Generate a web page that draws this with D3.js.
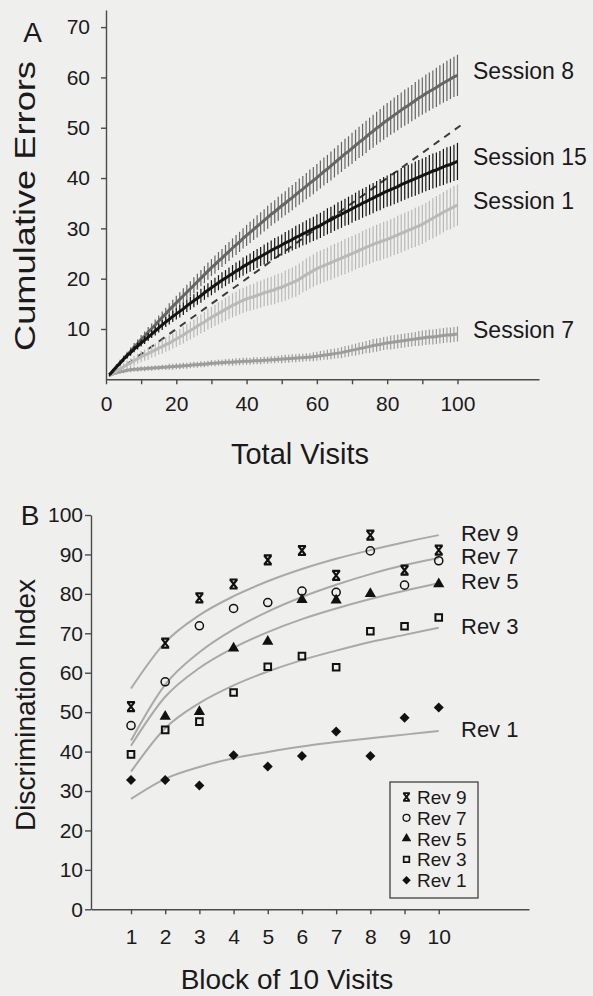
<!DOCTYPE html>
<html>
<head>
<meta charset="utf-8">
<script src="https://cdn.jsdelivr.net/npm/d3@7"></script>
<style>
    body { margin: 0; background: #efefed; }
    svg { display: block; font-family: "Liberation Sans", Arial, sans-serif; }
    .axis path, .axis line { stroke: #4a4a4a; stroke-width: 1.4; }
    .axis text { fill: #1a1a1a; font-family: "Liberation Sans", Arial, sans-serif; }
    .label { fill: #1a1a1a; }
</style>
</head>
<body>
<div class="chart"></div>
<script>
// ---- panel A : cumulative errors, mean per visit (visits 1..100) ----
var session8 = [
    0.9, 1.7, 2.5, 3.3, 4.1, 4.8, 5.6, 6.4, 7.1, 7.9,
    8.6, 9.4, 10.1, 10.8, 11.6, 12.3, 13.0, 13.8, 14.5, 15.2,
    15.9, 16.6, 17.3, 18.0, 18.7, 19.4, 20.1, 20.8, 21.5, 22.2,
    22.8, 23.5, 24.1, 24.8, 25.4, 26.1, 26.7, 27.3, 28.0, 28.6,
    29.2, 29.8, 30.4, 31.0, 31.6, 32.2, 32.8, 33.3, 33.9, 34.5,
    35.0, 35.6, 36.1, 36.7, 37.3, 37.8, 38.4, 39.0, 39.5, 40.1,
    40.7, 41.3, 41.8, 42.4, 43.0, 43.6, 44.2, 44.8, 45.3, 45.9,
    46.5, 47.1, 47.6, 48.2, 48.8, 49.3, 49.9, 50.4, 51.0, 51.5,
    52.0, 52.5, 53.0, 53.5, 54.0, 54.4, 54.9, 55.4, 55.9, 56.3,
    56.8, 57.2, 57.6, 58.0, 58.5, 58.9, 59.3, 59.7, 60.1, 60.4
];
var session15 = [
    0.9, 1.7, 2.5, 3.2, 4.0, 4.7, 5.3, 6.0, 6.6, 7.2,
    7.8, 8.4, 9.0, 9.6, 10.2, 10.8, 11.4, 11.9, 12.5, 13.0,
    13.5, 14.0, 14.6, 15.1, 15.6, 16.1, 16.6, 17.2, 17.7, 18.2,
    18.7, 19.2, 19.7, 20.1, 20.6, 21.0, 21.5, 21.9, 22.4, 22.8,
    23.2, 23.6, 24.0, 24.4, 24.8, 25.2, 25.6, 26.0, 26.3, 26.7,
    27.1, 27.4, 27.8, 28.2, 28.5, 28.9, 29.2, 29.6, 29.9, 30.3,
    30.6, 31.0, 31.4, 31.7, 32.1, 32.5, 32.8, 33.2, 33.5, 33.9,
    34.3, 34.6, 35.0, 35.3, 35.7, 36.0, 36.4, 36.7, 37.1, 37.4,
    37.7, 38.0, 38.3, 38.7, 39.0, 39.3, 39.6, 39.9, 40.2, 40.5,
    40.8, 41.1, 41.4, 41.6, 41.9, 42.2, 42.5, 42.7, 43.0, 43.3
];
var session1 = [
    0.8, 1.3, 1.7, 2.1, 2.5, 2.9, 3.3, 3.7, 4.1, 4.5,
    4.8, 5.1, 5.5, 5.8, 6.2, 6.5, 6.9, 7.2, 7.6, 8.0,
    8.4, 8.8, 9.3, 9.7, 10.1, 10.6, 11.0, 11.4, 11.9, 12.3,
    12.7, 13.1, 13.5, 13.9, 14.3, 14.7, 15.0, 15.4, 15.7, 16.0,
    16.2, 16.4, 16.7, 16.9, 17.2, 17.4, 17.6, 17.8, 18.1, 18.3,
    18.6, 18.9, 19.2, 19.5, 19.9, 20.4, 20.8, 21.2, 21.6, 22.0,
    22.3, 22.6, 22.9, 23.2, 23.5, 23.8, 24.1, 24.4, 24.7, 25.0,
    25.3, 25.6, 25.9, 26.2, 26.5, 26.8, 27.1, 27.3, 27.6, 27.8,
    28.1, 28.4, 28.7, 29.0, 29.3, 29.6, 29.9, 30.2, 30.5, 30.8,
    31.2, 31.6, 32.0, 32.4, 32.8, 33.2, 33.6, 33.9, 34.3, 34.6
];
var session7 = [
    0.8, 1.1, 1.3, 1.5, 1.6, 1.8, 1.9, 2.0, 2.0, 2.1,
    2.1, 2.2, 2.2, 2.3, 2.3, 2.4, 2.4, 2.5, 2.5, 2.6,
    2.6, 2.7, 2.7, 2.8, 2.9, 2.9, 3.0, 3.0, 3.1, 3.2,
    3.2, 3.3, 3.3, 3.4, 3.4, 3.4, 3.5, 3.5, 3.6, 3.6,
    3.6, 3.7, 3.7, 3.7, 3.8, 3.8, 3.9, 3.9, 4.0, 4.0,
    4.1, 4.1, 4.2, 4.2, 4.3, 4.3, 4.4, 4.4, 4.5, 4.6,
    4.7, 4.8, 4.9, 5.0, 5.1, 5.2, 5.3, 5.5, 5.6, 5.8,
    5.9, 6.1, 6.2, 6.4, 6.5, 6.7, 6.8, 6.9, 7.1, 7.2,
    7.3, 7.4, 7.5, 7.6, 7.7, 7.8, 7.9, 8.0, 8.1, 8.2,
    8.3, 8.4, 8.4, 8.5, 8.6, 8.7, 8.8, 8.8, 8.9, 9.0
];

// standard errors per visit
var session8Err = [
    .3, .4, .5, .6, .6, .7, .7, .8, .8, .9,
    .9, 1.0, 1.0, 1.1, 1.1, 1.2, 1.2, 1.3, 1.3, 1.4,
    1.4, 1.5, 1.5, 1.5, 1.6, 1.6, 1.6, 1.7, 1.7, 1.7,
    1.8, 1.8, 1.8, 1.9, 1.9, 1.9, 2.0, 2.0, 2.0, 2.1,
    2.1, 2.1, 2.2, 2.2, 2.2, 2.3, 2.3, 2.3, 2.4, 2.4,
    2.4, 2.5, 2.5, 2.5, 2.6, 2.6, 2.6, 2.7, 2.7, 2.7,
    2.8, 2.8, 2.8, 2.9, 2.9, 2.9, 3.0, 3.0, 3.0, 3.1,
    3.1, 3.1, 3.2, 3.2, 3.2, 3.3, 3.3, 3.3, 3.4, 3.4,
    3.4, 3.5, 3.5, 3.5, 3.6, 3.6, 3.6, 3.7, 3.7, 3.7,
    3.8, 3.8, 3.8, 3.9, 3.9, 3.9, 4.0, 4.0, 4.0, 4.1
];
var session15Err = [
    .3, .3, .4, .4, .5, .5, .6, .6, .7, .7,
    .8, .8, .8, .9, .9, 1.0, 1.0, 1.0, 1.1, 1.1,
    1.2, 1.2, 1.2, 1.3, 1.3, 1.3, 1.4, 1.4, 1.4, 1.5,
    1.5, 1.5, 1.6, 1.6, 1.6, 1.7, 1.7, 1.7, 1.8, 1.8,
    1.8, 1.9, 1.9, 1.9, 2.0, 2.0, 2.0, 2.1, 2.1, 2.1,
    2.2, 2.2, 2.2, 2.3, 2.3, 2.3, 2.4, 2.4, 2.4, 2.5,
    2.5, 2.5, 2.6, 2.6, 2.6, 2.7, 2.7, 2.7, 2.8, 2.8,
    2.8, 2.9, 2.9, 2.9, 3.0, 3.0, 3.0, 3.1, 3.1, 3.1,
    3.2, 3.2, 3.2, 3.3, 3.3, 3.3, 3.3, 3.4, 3.4, 3.4,
    3.4, 3.5, 3.5, 3.5, 3.5, 3.6, 3.6, 3.6, 3.6, 3.7
];
var session1Err = [
    .3, .4, .5, .6, .7, .8, .9, 1.0, 1.0, 1.1,
    1.1, 1.2, 1.2, 1.3, 1.3, 1.4, 1.4, 1.5, 1.5, 1.6,
    1.6, 1.7, 1.7, 1.8, 1.8, 1.9, 1.9, 2.0, 2.0, 2.1,
    2.1, 2.2, 2.2, 2.3, 2.3, 2.4, 2.4, 2.5, 2.5, 2.5,
    2.6, 2.6, 2.7, 2.7, 2.7, 2.8, 2.8, 2.9, 2.9, 2.9,
    3.0, 3.0, 3.0, 3.1, 3.1, 3.1, 3.2, 3.2, 3.2, 3.3,
    3.3, 3.3, 3.3, 3.4, 3.4, 3.4, 3.4, 3.5, 3.5, 3.5,
    3.5, 3.5, 3.6, 3.6, 3.6, 3.6, 3.6, 3.7, 3.7, 3.7,
    3.7, 3.7, 3.8, 3.8, 3.8, 3.8, 3.8, 3.9, 3.9, 3.9,
    3.9, 3.9, 4.0, 4.0, 4.0, 4.0, 4.0, 4.1, 4.1, 4.1
];
var session7Err = [
    .2, .3, .3, .4, .4, .4, .5, .5, .5, .5,
    .5, .5, .5, .5, .5, .5, .5, .6, .6, .6,
    .6, .6, .6, .6, .6, .6, .6, .6, .6, .6,
    .6, .6, .6, .6, .7, .7, .7, .7, .7, .7,
    .7, .7, .7, .7, .7, .7, .7, .7, .7, .8,
    .8, .8, .8, .8, .8, .8, .8, .8, .9, .9,
    .9, .9, 1.0, 1.0, 1.0, 1.0, 1.1, 1.1, 1.1, 1.1,
    1.2, 1.2, 1.2, 1.2, 1.3, 1.3, 1.3, 1.3, 1.3, 1.3,
    1.4, 1.4, 1.4, 1.4, 1.4, 1.4, 1.4, 1.4, 1.5, 1.5,
    1.5, 1.5, 1.5, 1.5, 1.5, 1.5, 1.5, 1.5, 1.5, 1.5
];

var sessionNames = ['Session 7', 'Session 1', 'Session 8', 'Session 15'];
var chanceLine = [[3, 1.5], [102, 51]];   // dashed chance line (visit, errors)
var visitTicks = [0, 10, 20, 30, 40, 50, 60, 70, 80, 90, 100];
var errorTicks = [10, 20, 30, 40, 50, 60, 70];

// ---- panel B : discrimination index per block of 10 visits ----
var blocks = [1, 2, 3, 4, 5, 6, 7, 8, 9, 10];
var rev9 = [51.4, 67.5, 79.0, 82.5, 88.6, 91.0, 84.7, 94.9, 86.0, 91.1];
var rev7 = [46.6, 57.7, 71.9, 76.3, 77.8, 80.7, 80.4, 90.9, 82.2, 88.4];
var rev5 = [null, 48.9, 50.1, 66.2, 67.9, 78.5, 78.4, 80.0, null, 82.5];
var rev3 = [39.3, 45.5, 47.6, 55.0, 61.5, 64.2, 61.4, 70.5, 71.8, 74.0];
var rev1 = [32.8, 32.8, 31.4, 39.1, 36.2, 38.9, 45.1, 38.9, 48.6, 51.2];

// fitted trend curves
var rev9Fit = [56.0, 67.7, 74.6, 79.4, 83.2, 86.3, 88.9, 91.1, 93.1, 94.9];
var rev7Fit = [42.8, 57.0, 65.2, 71.0, 75.5, 79.2, 82.3, 85.0, 87.3, 89.1];
var rev5Fit = [41.5, 53.9, 61.2, 66.3, 70.3, 73.6, 76.3, 78.7, 80.8, 82.7];
var rev3Fit = [34.9, 45.9, 52.3, 56.8, 60.3, 63.2, 65.6, 67.8, 69.6, 71.4];
var rev1Fit = [28.0, 33.1, 36.1, 38.3, 39.9, 41.3, 42.4, 43.4, 44.3, 45.2];

var revNames = ['Rev 9', 'Rev 7', 'Rev 5', 'Rev 3', 'Rev 1'];
var indexTicks = [0, 10, 20, 30, 40, 50, 60, 70, 80, 90, 100];

var config = {
    w: 593,
    h: 996,
    a: { x0: 106, x1: 539, xMax: 123.2, y0: 379.3, y1: 10, yMax: 73.4 },
    b: { x0: 91, x1: 529, xMin: -0.17, xMax: 12.64, y0: 909.3, y1: 515, yMax: 100 },
    colors: {
        'Session 8': '#666666',
        'Session 15': '#141414',
        'Session 1': '#b9b9b9',
        'Session 7': '#9c9c9c'
    }
};

var svg = d3.select('.chart')
    .append('svg')
    .attr('width', config.w)
    .attr('height', config.h);

var drawPanelA = function () {
    var c = config.a;
    var xScale = d3.scaleLinear().domain([0, c.xMax]).range([c.x0, c.x1]);
    var yScale = d3.scaleLinear().domain([0, c.yMax]).range([c.y0, c.y1]);

    var xAxis = d3.axisBottom(xScale)
        .tickValues(visitTicks)
        .tickSize(5)
        .tickSizeOuter(0)
        .tickPadding(12)
        .tickFormat(function (d) { return d % 20 === 0 ? d : ''; });
    var yAxis = d3.axisLeft(yScale)
        .tickValues(errorTicks)
        .tickSize(5)
        .tickSizeOuter(0)
        .tickPadding(11);

    svg.append('g')
        .attr('class', 'axis')
        .attr('transform', 'translate(0,' + c.y0 + ')')
        .call(xAxis)
        .selectAll('text').attr('font-size', 21);
    svg.append('g')
        .attr('class', 'axis')
        .attr('transform', 'translate(' + c.x0 + ',0)')
        .call(yAxis)
        .selectAll('text').attr('font-size', 21);

    // chance line
    svg.append('path')
        .datum(chanceLine)
        .attr('fill', 'none')
        .attr('stroke', '#3c3c3c')
        .attr('stroke-width', 2)
        .attr('stroke-dasharray', '7,6')
        .attr('d', d3.line()
            .x(function (d) { return xScale(d[0]); })
            .y(function (d) { return yScale(d[1]); }));

    var series = {
        'Session 7': [session7, session7Err],
        'Session 1': [session1, session1Err],
        'Session 8': [session8, session8Err],
        'Session 15': [session15, session15Err]
    };

    sessionNames.forEach(function (name) {
        var means = series[name][0];
        var errs = series[name][1];
        var color = config.colors[name];
        var pts = means.map(function (m, i) { return { v: i + 1, m: m, e: errs[i] }; });
        var g = svg.append('g');

        g.selectAll('line')
            .data(pts)
            .enter()
            .append('line')
            .attr('x1', function (d) { return xScale(d.v); })
            .attr('x2', function (d) { return xScale(d.v); })
            .attr('y1', function (d) { return yScale(d.m - d.e); })
            .attr('y2', function (d) { return yScale(d.m + d.e); })
            .attr('stroke', color)
            .attr('stroke-width', 1.2);

        g.append('path')
            .datum(pts)
            .attr('fill', 'none')
            .attr('stroke', color)
            .attr('stroke-width', 3)
            .attr('d', d3.line()
                .x(function (d) { return xScale(d.v); })
                .y(function (d) { return yScale(d.m); }));

        svg.append('text')
            .attr('class', 'label')
            .attr('x', 473)
            .attr('y', yScale(means[means.length - 1]) + 4)
            .attr('font-size', 23)
            .text(name);
    });

    svg.append('text')
        .attr('class', 'label')
        .attr('x', 32.5)
        .attr('y', 42)
        .attr('text-anchor', 'middle')
        .attr('font-size', 28)
        .text('A');

    svg.append('text')
        .attr('class', 'label')
        .attr('transform', 'translate(35,206) rotate(-90)')
        .attr('text-anchor', 'middle')
        .attr('font-size', 30)
        .attr('textLength', 290)
        .attr('lengthAdjust', 'spacingAndGlyphs')
        .text('Cumulative Errors');

    svg.append('text')
        .attr('class', 'label')
        .attr('x', 300)
        .attr('y', 464)
        .attr('text-anchor', 'middle')
        .attr('font-size', 29)
        .text('Total Visits');
};

var marker = {
    'Rev 9': { d: 'M-4,-4.5H4M-4,4.5H4M-3.5,-4.5L3.5,4.5M3.5,-4.5L-3.5,4.5', fill: 'none', stroke: '#111', sw: 2.2 },
    'Rev 7': { d: d3.symbol(d3.symbolCircle, 52)(), fill: 'none', stroke: '#111', sw: 1.5 },
    'Rev 5': { d: d3.symbol(d3.symbolTriangle, 55)(), fill: '#111', stroke: 'none', sw: 0 },
    'Rev 3': { d: 'M-3.3,-3.3H3.3V3.3H-3.3Z', fill: 'none', stroke: '#111', sw: 2 },
    'Rev 1': { d: 'M0,-5L5,0L0,5L-5,0Z', fill: '#111', stroke: 'none', sw: 0 }
};

var drawPanelB = function () {
    var c = config.b;
    var xScale = d3.scaleLinear().domain([c.xMin, c.xMax]).range([c.x0, c.x1]);
    var yScale = d3.scaleLinear().domain([0, c.yMax]).range([c.y0, c.y1]);

    var xAxis = d3.axisBottom(xScale)
        .tickValues(blocks)
        .tickSize(5)
        .tickSizeOuter(0)
        .tickPadding(15);
    var yAxis = d3.axisLeft(yScale)
        .tickValues(indexTicks)
        .tickSize(6)
        .tickSizeOuter(0)
        .tickPadding(2);

    svg.append('g')
        .attr('class', 'axis')
        .attr('transform', 'translate(0,' + c.y0 + ')')
        .call(xAxis)
        .selectAll('text').attr('font-size', 21);
    svg.append('g')
        .attr('class', 'axis')
        .attr('transform', 'translate(' + c.x0 + ',0)')
        .call(yAxis)
        .selectAll('text').attr('font-size', 21);

    var points = { 'Rev 9': rev9, 'Rev 7': rev7, 'Rev 5': rev5, 'Rev 3': rev3, 'Rev 1': rev1 };
    var fits = { 'Rev 9': rev9Fit, 'Rev 7': rev7Fit, 'Rev 5': rev5Fit, 'Rev 3': rev3Fit, 'Rev 1': rev1Fit };

    var fitLine = d3.line()
        .curve(d3.curveMonotoneX)
        .x(function (d, i) { return xScale(blocks[i]); })
        .y(function (d) { return yScale(d); });

    revNames.forEach(function (name) {
        var fit = fits[name];
        svg.append('path')
            .datum(fit)
            .attr('fill', 'none')
            .attr('stroke', '#a9a9a9')
            .attr('stroke-width', 2)
            .attr('d', fitLine);

        svg.append('text')
            .attr('class', 'label')
            .attr('x', 461)
            .attr('y', yScale(fit[fit.length - 1]) + 6)
            .attr('font-size', 22)
            .text(name);
    });

    revNames.slice().reverse().forEach(function (name) {
        var m = marker[name];
        var pts = points[name]
            .map(function (v, i) { return { b: blocks[i], v: v }; })
            .filter(function (d) { return d.v !== null; });
        svg.append('g')
            .selectAll('path')
            .data(pts)
            .enter()
            .append('path')
            .attr('transform', function (d) {
                return 'translate(' + xScale(d.b) + ',' + yScale(d.v) + ')';
            })
            .attr('d', m.d)
            .attr('fill', m.fill)
            .attr('stroke', m.stroke)
            .attr('stroke-width', m.sw);
    });

    // legend
    var legend = svg.append('g').attr('transform', 'translate(390,782)');
    legend.append('rect')
        .attr('width', 88)
        .attr('height', 116)
        .attr('fill', 'none')
        .attr('stroke', '#333')
        .attr('stroke-width', 1.2);
    revNames.forEach(function (name, i) {
        var m = marker[name];
        var row = legend.append('g').attr('transform', 'translate(0,' + (15 + i * 20.8) + ')');
        row.append('path')
            .attr('transform', 'translate(16.5,0) scale(0.85)')
            .attr('d', m.d)
            .attr('fill', m.fill)
            .attr('stroke', m.stroke)
            .attr('stroke-width', m.sw);
        row.append('text')
            .attr('class', 'label')
            .attr('x', 27)
            .attr('y', 7)
            .attr('font-size', 19)
            .text(name);
    });

    svg.append('text')
        .attr('class', 'label')
        .attr('x', 30)
        .attr('y', 525)
        .attr('text-anchor', 'middle')
        .attr('font-size', 28)
        .text('B');

    svg.append('text')
        .attr('class', 'label')
        .attr('transform', 'translate(35,705) rotate(-90)')
        .attr('text-anchor', 'middle')
        .attr('font-size', 28)
        .text('Discrimination Index');

    svg.append('text')
        .attr('class', 'label')
        .attr('x', 287)
        .attr('y', 989)
        .attr('text-anchor', 'middle')
        .attr('font-size', 28)
        .text('Block of 10 Visits');
};

drawPanelA();
drawPanelB();
</script>
</body>
</html>
